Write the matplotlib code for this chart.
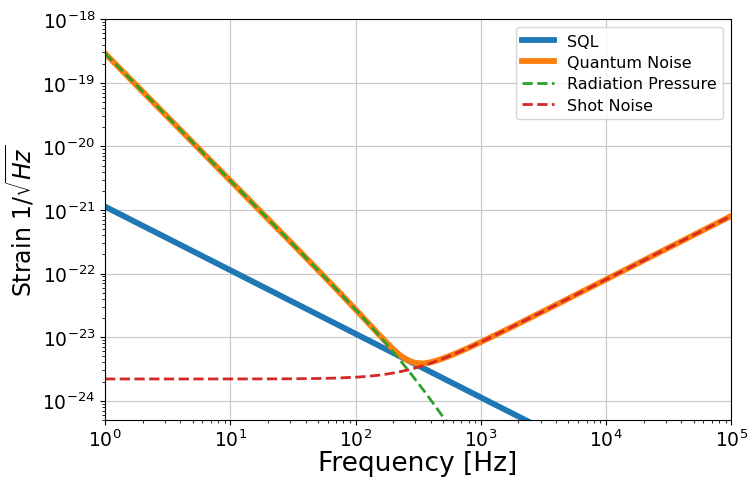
import numpy as np
import matplotlib
matplotlib.use("Agg")
import matplotlib.pyplot as plt

# values (frequency in Hz, strain in 1/sqrt(Hz))
freq = [1, 2, 5, 10, 20, 30, 50, 70, 100, 120, 150, 170, 200, 230, 260,
        300, 350, 400, 450, 500, 600, 700, 800, 1000, 1500, 2000, 3000,
        5000, 1e4, 2e4, 5e4, 1e5]

sql = [1.13e-21, 5.65e-22, 2.26e-22, 1.13e-22, 5.65e-23, 3.767e-23, 2.26e-23,
       1.614e-23, 1.13e-23, 9.417e-24, 7.533e-24, 6.647e-24, 5.65e-24,
       4.913e-24, 4.346e-24, 3.767e-24, 3.229e-24, 2.825e-24, 2.511e-24,
       2.26e-24, 1.883e-24, 1.614e-24, 1.4125e-24, 1.13e-24, 7.533e-25,
       5.65e-25, 3.767e-25, 2.26e-25, 1.13e-25, 5.65e-26, 2.26e-26, 1.13e-26]

quantum = [2.9e-19, 7.25e-20, 1.16e-20, 2.898e-21, 7.23e-22, 3.203e-22,
           1.141e-22, 5.737e-23, 2.733e-23, 1.86e-23, 1.158e-23, 8.904e-24,
           6.453e-24, 5.084e-24, 4.345e-24, 3.923e-24, 3.862e-24, 4.034e-24,
           4.307e-24, 4.625e-24, 5.322e-24, 6.059e-24, 6.813e-24, 8.354e-24,
           1.229e-23, 1.627e-23, 2.427e-23, 4.035e-23, 8.061e-23, 1.612e-22,
           4.029e-22, 8.059e-22]

rad_pressure = [2.9e-19, 7.25e-20, 1.16e-20, 2.898e-21, 7.23e-22, 3.203e-22,
                1.141e-22, 5.733e-23, 2.723e-23, 1.844e-23, 1.13e-23,
                8.518e-24, 5.848e-24, 4.192e-24, 3.106e-24, 2.169e-24,
                1.456e-24, 1.022e-24, 7.428e-25, 5.559e-25, 3.336e-25,
                2.15e-25, 1.463e-25, 7.64e-26, 2.31e-26, 9.8e-27, 2.92e-27,
                6.3e-28, 7.9e-29, 9.9e-30, 6.3e-31, 7.9e-32]

shot = [2.2e-24, 2.2e-24, 2.2e-24, 2.202e-24, 2.206e-24, 2.213e-24, 2.237e-24,
        2.271e-24, 2.343e-24, 2.403e-24, 2.51e-24, 2.592e-24, 2.727e-24,
        2.877e-24, 3.038e-24, 3.269e-24, 3.577e-24, 3.903e-24, 4.242e-24,
        4.591e-24, 5.312e-24, 6.055e-24, 6.812e-24, 8.354e-24, 1.229e-23,
        1.627e-23, 2.427e-23, 4.035e-23, 8.061e-23, 1.612e-22, 4.029e-22,
        8.059e-22]

fig = plt.figure(figsize=(7.5, 4.81), dpi=100)
ax = fig.add_subplot(111)
fig.subplots_adjust(left=0.14, right=0.975, top=0.958, bottom=0.125)

ax.loglog(freq, sql, color='C0', lw=4.2, label='SQL')
ax.loglog(freq, quantum, color='C1', lw=4.2, label='Quantum Noise')
ax.loglog(freq, rad_pressure, color='C2', lw=2, ls='--', label='Radiation Pressure')
ax.loglog(freq, shot, color='C3', lw=2, ls='--', label='Shot Noise')

ax.set_xlim(1, 1e5)
ax.set_ylim(5e-25, 1e-18)
ax.grid(True, which='major', color='#c8c8c8')
ax.tick_params(labelsize=13.5)
ax.tick_params(axis='x', pad=3)
ax.set_xlabel('Frequency [Hz]', fontsize=19, labelpad=0)
ax.set_ylabel(r'Strain $1/\sqrt{Hz}$', fontsize=17, labelpad=4)
ax.legend(loc='upper right', fontsize=11.5, labelspacing=0.4)

fig.savefig('out.png', dpi=100)
